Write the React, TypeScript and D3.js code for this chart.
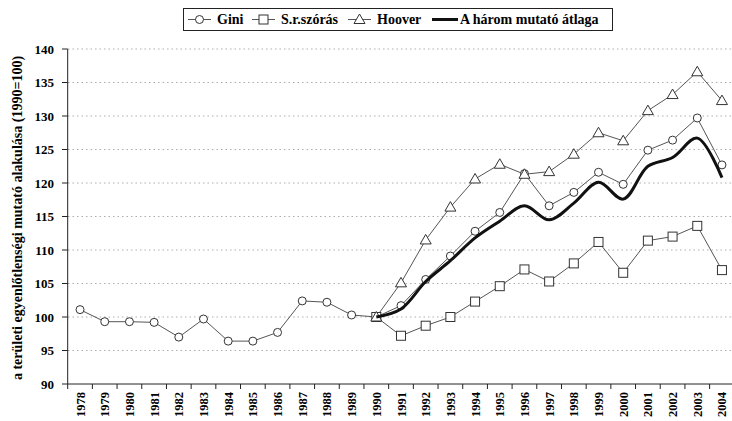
import React, { useEffect, useRef } from 'react';
import * as d3 from 'd3';

// years on the category axis
const years = d3.range(1978, 2005);

// series values (1990 = 100)
const giniYears = d3.range(1978, 2005);
const giniValues = [101.1, 99.3, 99.3, 99.2, 97.0, 99.7, 96.4, 96.4, 97.7, 102.4, 102.2, 100.3, 100.0,
    101.7, 105.6, 109.1, 112.8, 115.6, 121.4, 116.6, 118.6, 121.6, 119.8, 124.9, 126.4, 129.7, 122.7];

const laterYears = d3.range(1990, 2005);
const szorasValues = [100.0, 97.2, 98.7, 100.0, 102.3, 104.6, 107.1, 105.3, 108.0, 111.2, 106.6, 111.4, 112.0, 113.6, 107.0];
const hooverValues = [100.0, 105.1, 111.5, 116.4, 120.6, 122.8, 121.3, 121.7, 124.3, 127.5, 126.3, 130.8, 133.2, 136.6, 132.3];
const atlagValues = [100.0, 101.2, 105.3, 108.4, 111.8, 114.3, 116.6, 114.5, 117.0, 120.1, 117.6, 122.5, 123.8, 126.7, 120.8];

const yTicks = [90, 95, 100, 105, 110, 115, 120, 125, 130, 135, 140];

const legendItems = [
    { label: 'Gini', marker: 'circle', x: 188 },
    { label: 'S.r.szórás', marker: 'square', x: 252 },
    { label: 'Hoover', marker: 'triangle', x: 348 },
    { label: 'A három mutató átlaga', marker: 'thick', x: 432 },
];

const FONT = '"Liberation Serif", "Times New Roman", serif';

const App = () => {
    const svgRef = useRef(null);

    useEffect(() => {
        const svg = d3.select(svgRef.current);
        svg.selectAll('*').remove();

        const x = d3.scaleBand<number>()
            .domain(years)
            .range([67.7, 734.3])
            .padding(0);
        const cx = (yr: number) => (x(yr) as number) + x.bandwidth() / 2;

        const y = d3.scaleLinear()
            .domain([90, 140])
            .range([384, 49]);

        const g = svg.append('g');

        // dotted gridlines
        g.selectAll('line.grid')
            .data(yTicks.filter(t => t > 90))
            .enter()
            .append('line')
            .attr('x1', 68)
            .attr('x2', 732)
            .attr('y1', d => y(d))
            .attr('y2', d => y(d))
            .attr('stroke', '#999')
            .attr('stroke-width', 0.8)
            .attr('stroke-dasharray', '1.5,3');

        // y axis
        g.append('line')
            .attr('x1', 67.7).attr('x2', 67.7)
            .attr('y1', y(140)).attr('y2', y(90))
            .attr('stroke', '#222');
        g.selectAll('line.ytick')
            .data(yTicks)
            .enter()
            .append('line')
            .attr('x1', 62).attr('x2', 67.7)
            .attr('y1', d => y(d)).attr('y2', d => y(d))
            .attr('stroke', '#222');
        g.selectAll('text.ylab')
            .data(yTicks)
            .enter()
            .append('text')
            .attr('x', 54)
            .attr('y', d => y(d) + 4.5)
            .attr('text-anchor', 'end')
            .style('font-family', FONT)
            .style('font-weight', 'bold')
            .style('font-size', '13px')
            .text(d => d);

        g.append('text')
            .attr('transform', `translate(21.5, 218) rotate(-90)`)
            .attr('text-anchor', 'middle')
            .style('font-family', FONT)
            .style('font-weight', 'bold')
            .style('font-size', '14px')
            .text('a területi egyenlőtlenségi mutató alakulása (1990=100)');

        // x axis
        g.append('line')
            .attr('x1', 67.7).attr('x2', 732)
            .attr('y1', y(90)).attr('y2', y(90))
            .attr('stroke', '#222');
        g.selectAll('line.xtick')
            .data(years)
            .enter()
            .append('line')
            .attr('x1', d => x(d) as number).attr('x2', d => x(d) as number)
            .attr('y1', y(90)).attr('y2', y(90) + 5)
            .attr('stroke', '#222');
        g.selectAll('text.xlab')
            .data(years)
            .enter()
            .append('text')
            .attr('transform', d => `translate(${cx(d) + 4.5}, 392) rotate(-90)`)
            .attr('text-anchor', 'end')
            .style('font-family', FONT)
            .style('font-weight', 'bold')
            .style('font-size', '12.5px')
            .text(d => d);

        const line = d3.line<[number, number]>()
            .x(d => cx(d[0]))
            .y(d => y(d[1]));

        const gini = giniYears.map((yr, i) => [yr, giniValues[i]] as [number, number]);
        const szoras = laterYears.map((yr, i) => [yr, szorasValues[i]] as [number, number]);
        const hoover = laterYears.map((yr, i) => [yr, hooverValues[i]] as [number, number]);
        const atlag = laterYears.map((yr, i) => [yr, atlagValues[i]] as [number, number]);

        [gini, szoras, hoover].forEach(s => {
            g.append('path')
                .attr('d', line(s))
                .attr('fill', 'none')
                .attr('stroke', '#555')
                .attr('stroke-width', 1);
        });

        const drawMarker = (sel, kind: string, px: number, py: number) => {
            if (kind === 'circle') {
                sel.append('circle').attr('cx', px).attr('cy', py).attr('r', 4)
                    .attr('fill', '#fff').attr('stroke', '#333').attr('stroke-width', 1);
            } else if (kind === 'square') {
                sel.append('rect').attr('x', px - 4.5).attr('y', py - 4.5).attr('width', 9).attr('height', 9)
                    .attr('fill', '#fff').attr('stroke', '#333').attr('stroke-width', 1);
            } else if (kind === 'triangle') {
                sel.append('path').attr('d', `M${px},${py - 5.5}L${px + 5.5},${py + 4}L${px - 5.5},${py + 4}Z`)
                    .attr('fill', '#fff').attr('stroke', '#333').attr('stroke-width', 1);
            }
        };

        gini.forEach(d => drawMarker(g, 'circle', cx(d[0]), y(d[1])));
        szoras.forEach(d => drawMarker(g, 'square', cx(d[0]), y(d[1])));
        hoover.forEach(d => drawMarker(g, 'triangle', cx(d[0]), y(d[1])));

        g.append('path')
            .attr('d', line.curve(d3.curveCatmullRom.alpha(0.5))(atlag))
            .attr('fill', 'none')
            .attr('stroke', '#111')
            .attr('stroke-width', 3);

        // legend
        const lg = svg.append('g');
        lg.append('rect')
            .attr('x', 183.5).attr('y', 8.5)
            .attr('width', 429).attr('height', 22)
            .attr('fill', '#fff')
            .attr('stroke', '#222');
        legendItems.forEach(it => {
            const thick = it.marker === 'thick';
            lg.append('line')
                .attr('x1', it.x).attr('x2', it.x + (thick ? 26 : 23))
                .attr('y1', 19.5).attr('y2', 19.5)
                .attr('stroke', thick ? '#111' : '#555')
                .attr('stroke-width', thick ? 3 : 1);
            if (!thick) drawMarker(lg, it.marker, it.x + 11.5, 19.5);
            lg.append('text')
                .attr('x', it.x + (thick ? 28 : 29))
                .attr('y', 24)
                .style('font-family', FONT)
                .style('font-weight', 'bold')
                .style('font-size', '14px')
                .text(it.label);
        });
    }, []);

    return (
        <svg ref={svgRef} width={732} height={421}
            style={{ position: 'absolute', left: 0, top: 0, background: '#fff' }} />
    );
};

export default App;
